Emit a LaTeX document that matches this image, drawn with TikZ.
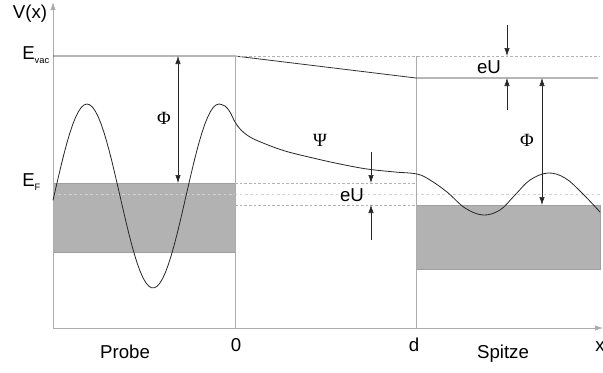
\documentclass[tikz,border=0pt]{standalone}
\usepackage{fontspec}
\setmainfont{Liberation Sans}
\newfontfamily\greekfont{Liberation Serif}
\usetikzlibrary{arrows.meta}

\newcommand{\lsub}[1]{\raisebox{-3pt}{\fontsize{7}{7}\selectfont #1}}

\tikzset{
  axis/.style={gray!65, line width=0.6pt},
  level/.style={gray!40!black, line width=0.6pt},
  guide/.style={gray!60, line width=0.5pt, dash pattern=on 2pt off 1.5pt},
  band/.style={fill=gray!60, draw=gray!75, line width=0.6pt},
  gap/.style={-{Latex[length=6pt,width=4pt]}, gray!30!black, line width=0.4pt},
  lbl/.style={font=\fontsize{14}{16}\selectfont, inner sep=0pt},
  greek/.style={font=\greekfont\fontsize{14}{16}\selectfont, inner sep=0pt},
}

\begin{document}
\begin{tikzpicture}[x=0.75pt, y=-0.75pt]
\useasboundingbox (0,0) rectangle (603,372);

% Baender
\draw[band] (53,183) rectangle (235,252);
\draw[band] (416,205) rectangle (600,269);
\draw[gray!35, line width=0.3pt, dash pattern=on 2pt off 2pt] (53,194) -- (600,194);

% Achsen
\coordinate (O) at (53,328);
\coordinate (ytop) at (53,2);
\coordinate (xend) at (603,328);
\draw[axis, -{Latex[length=6pt,width=4pt]}] (O) -- (ytop);
\draw[axis, -{Latex[length=6pt,width=4pt]}] (O) -- (xend);
\draw[axis] (235,56) -- (235,328);
\draw[axis] (416,56) -- (416,328);

% Niveaus
\draw[level] (53,56) -- (235,56) -- (416,78) -- (598,78);
\draw[guide] (235,56) -- (600,56);
\draw[guide] (235,183) -- (416,183);
\draw[guide] (235,205) -- (416,205);

% Wellenfunktion
\draw[black!85, line width=0.6pt] plot[domain=53:219, samples=60]
  (\x, {196-92*cos(2.72727*(\x-87))});
\draw[black!85, line width=0.6pt] plot[smooth, tension=0.6] coordinates {
  (219,104) (225,106) (230,112) (235,122) (241,130) (250,137) (263,143)
  (285,151) (313,158) (340,164) (367,169) (395,172) (417,174) (430,180)
  (447,192) (465,208) (483,215) (500,210) (515,195) (530,180) (548,173)
  (565,178) (582,193) (600,212)};

% Austrittsarbeit
\coordinate (phiLtop) at (178,56);
\coordinate (phiLbot) at (178,183);
\coordinate (phiRtop) at (542,78);
\coordinate (phiRbot) at (542,205);
\draw[gap, {Latex[length=6pt,width=4pt]}-{Latex[length=6pt,width=4pt]}] (phiLtop) -- (phiLbot);
\draw[gap, {Latex[length=6pt,width=4pt]}-{Latex[length=6pt,width=4pt]}] (phiRtop) -- (phiRbot);

% Spannung
\coordinate (uTa) at (507,25);
\coordinate (uTb) at (507,56);
\coordinate (uTc) at (507,110);
\coordinate (uTd) at (507,78);
\draw[gap] (uTa) -- (uTb);
\draw[gap] (uTc) -- (uTd);
\coordinate (uMa) at (371,152);
\coordinate (uMb) at (371,183);
\coordinate (uMc) at (371,240);
\coordinate (uMd) at (371,205);
\draw[gap] (uMa) -- (uMb);
\draw[gap] (uMc) -- (uMd);

% Beschriftung
\node[lbl] (Vx) at (30,14) {V(x)};
\node[lbl, anchor=west] (Evac) at (22,55) {E\lsub{vac}};
\node[lbl, anchor=west] (EF) at (22,182) {E\lsub{F}};
\node[greek] (phiL) at (164,118) {Φ};
\node[greek] (phiR) at (527,140) {Φ};
\node[greek] (psi) at (320,140) {Ψ};
\node[lbl] (eUtop) at (489,67) {eU};
\node[lbl] (eUmid) at (352,195) {eU};
\node[lbl, anchor=base] (probe) at (125,358) {Probe};
\node[lbl, anchor=base] (spitze) at (503,358) {Spitze};
\node[lbl, anchor=base] (null) at (236,351) {0};
\node[lbl, anchor=base] (dd) at (414,351) {d};
\node[lbl, anchor=base] (xx) at (600,351) {x};
\end{tikzpicture}
\end{document}
